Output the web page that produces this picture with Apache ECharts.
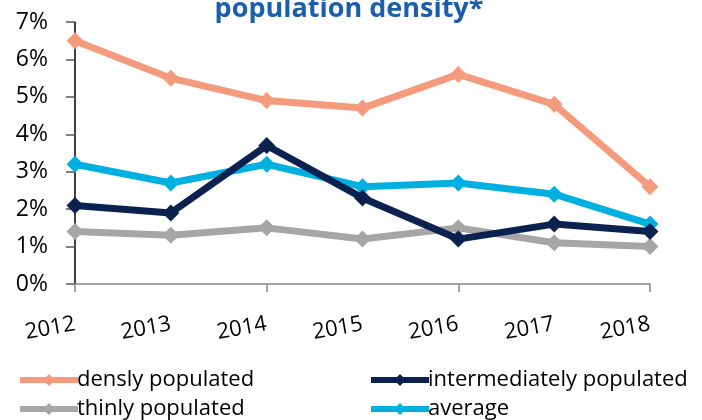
<!DOCTYPE html>
<html>
<head>
<meta charset="utf-8">
<script src="https://cdn.jsdelivr.net/npm/echarts@6/dist/echarts.min.js"></script>
<style>
  html, body { margin: 0; padding: 0; background: #fff; }
  #chart { width: 702px; height: 420px; }
</style>
</head>
<body>
<div id="chart"></div>
<script>
// data
var years = ['2012', '2013', '2014', '2015', '2016', '2017', '2018'];
var densely = [6.5, 5.5, 4.9, 4.7, 5.6, 4.8, 2.6];
var intermediately = [2.1, 1.9, 3.7, 2.3, 1.2, 1.6, 1.4];
var thinly = [1.4, 1.3, 1.5, 1.2, 1.5, 1.1, 1.0];
var average = [3.2, 2.7, 3.2, 2.6, 2.7, 2.4, 1.6];

var names = ['densly populated', 'intermediately populated', 'thinly populated', 'average'];
var colors = ['#F49B7E', '#0B2250', '#A6A6A6', '#00B0E0'];
var FONT = '"Open Sans", "Noto Sans", sans-serif';

var chart = echarts.init(document.getElementById('chart'));

//单项图例，手动定位成两列
var legendPos = [[12, 364], [363, 364], [12, 393], [363, 393]];
var legends = names.map(function (n, i) {
    return {
        data: [n],
        left: legendPos[i][0],
        top: legendPos[i][1],
        itemWidth: 58,
        itemHeight: 15,
        lineStyle: { width: 6 },
        textStyle: { fontFamily: FONT, fontSize: 22, color: '#000', padding: [0, 0, 0, -6] }
    };
});

function mkSeries(name, data, i) {
    return {
        name: name,
        type: 'line',
        data: data,
        symbol: 'diamond',
        symbolSize: 17,
        color: colors[i],
        lineStyle: { width: 7, color: colors[i] },
        itemStyle: { color: colors[i] },
        z: 10 - i
    };
}

chart.setOption({
    animation: false,
    title: {
        text: 'population density*',
        left: 344,
        textAlign: 'center',
        top: -9,
        textStyle: { fontFamily: FONT, fontSize: 27, fontWeight: 'bold', color: '#1B5EAA' }
    },
    legend: legends,
    grid: { left: 75, right: 52, top: 22, bottom: 136 },
    xAxis: {
        type: 'category',
        data: years,
        boundaryGap: false,
        axisLine: { lineStyle: { color: '#888', width: 1.5 } },
        axisTick: { show: true, interval: 1, length: 8, lineStyle: { color: '#888', width: 1.5 } },
        axisLabel: { rotate: 10, fontFamily: FONT, fontSize: 22, color: '#000', margin: 40, interval: 0 },
        splitLine: { show: false }
    },
    yAxis: {
        type: 'value',
        min: 0,
        max: 7,
        interval: 1,
        axisLine: { show: true, lineStyle: { color: '#000', width: 1.5 } },
        axisTick: { show: true, length: 9, lineStyle: { color: '#555', width: 1.5 } },
        axisLabel: {
            fontFamily: FONT, fontSize: 23, color: '#000', margin: 27,
            formatter: function (v) { return v + '%'; }
        },
        splitLine: { show: false }
    },
    series: [
        mkSeries(names[0], densely, 0),
        mkSeries(names[1], intermediately, 1),
        mkSeries(names[2], thinly, 2),
        mkSeries(names[3], average, 3)
    ]
});
</script>
</body>
</html>
